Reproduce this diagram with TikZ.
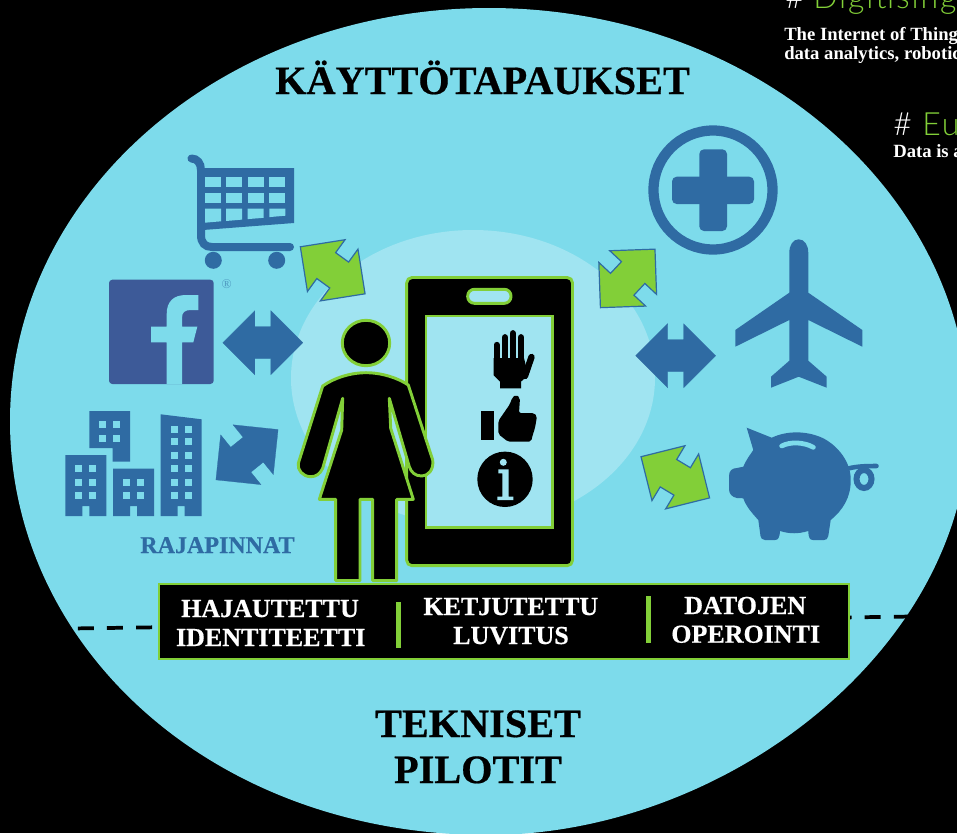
\documentclass[tikz,border=0pt]{standalone}
\usepackage{fontspec}
\setmainfont{Liberation Serif}
\newfontfamily\headfont[LetterSpace=6]{Lato Light}
\newfontfamily\heavyfont[FakeBold=0.5]{Liberation Serif Bold}
\definecolor{skyfill}{HTML}{7DDBEB}
\definecolor{palefill}{HTML}{A0E4F1}
\definecolor{iconblue}{HTML}{2F6BA3}
\definecolor{fbblue}{HTML}{3D5A98}
\definecolor{leafgreen}{HTML}{82CF38}
\begin{document}
\begin{tikzpicture}[x=0.75pt,y=-0.75pt]
        % Styles
        \tikzstyle{icon}=[fill=iconblue]
        \tikzstyle{cutout}=[fill=skyfill]
        \tikzstyle{outlined}=[fill=black,draw=leafgreen,line width=2.2pt,line join=round]
        \tikzstyle{blue arrow}=[fill=iconblue,draw=iconblue,line width=0.2pt]
        \tikzstyle{green arrow}=[fill=leafgreen,draw=iconblue,line width=0.9pt]
        \tikzstyle{big title}=[font=\heavyfont\fontsize{30.2}{36}\selectfont,inner sep=0pt,anchor=base]
        \tikzstyle{bar text}=[font=\heavyfont\fontsize{19.5}{24}\selectfont,text=white,inner sep=0pt,anchor=base]
        \tikzstyle{side text}=[font=\fontsize{14}{17}\selectfont\bfseries,text=white,inner sep=0pt,anchor=base west]
        \tikzstyle{side head}=[font=\headfont\fontsize{24}{28}\selectfont,inner sep=0pt,anchor=base west]
        %background
        \useasboundingbox (0,0) rectangle (957,833);
        \clip (0,0) rectangle (957,833);
        \fill[black] (0,0) rectangle (957,833);
        \fill[skyfill] (10,421) .. controls (10,193) and (224,8) .. (489,8) .. controls (754,8) and (969,193) .. (969,421)
            .. controls (969,649) and (725,835) .. (488,835) .. controls (215,835) and (10,649) .. (10,421) -- cycle;
        \fill[palefill] (473,378) ellipse (182 and 148);
        %side texts
        \node[side head,text=white] (hash one) at (785,8) {\#};
        \node[side head,text=leafgreen] (digi head) at (813,8) {Digitising};
        \node[side text] (iot line) at (784,40) {The Internet of Things};
        \node[side text] (data line) at (784,59) {data analytics, robotics};
        \node[side head,text=white] (hash two) at (893,135) {\#};
        \node[side head,text=leafgreen] (eu head) at (922,135) {Eu};
        \node[side text] (asset line) at (893,157) {Data is a};
        %titles
        \node[big title] (usecase title) at (482.5,94) {KÄYTTÖTAPAUKSET};
        \node[big title] (pilot one) at (478,737) {TEKNISET};
        \node[big title] (pilot two) at (478,783) {PILOTIT};
        \node[font=\heavyfont\fontsize{18}{20}\selectfont,text=iconblue,inner sep=0pt,anchor=base] (iface label) at (217.5,553) {RAJAPINNAT};
        %arrows
        \foreach \ax/\ay/\ang/\sty in {262.8/342.7/0/blue arrow,675.7/355.7/0/blue arrow,247/454.7/39/blue arrow,
            332.7/270.3/-36/green arrow,627.7/278.4/47/green arrow,675.3/477.3/-31/green arrow}
        \draw[\sty,shift={(\ax,\ay)},rotate=\ang] (-40,0) -- (-8,-32) -- (-8,-16) -- (8,-16) -- (8,-32) -- (40,0)
            -- (8,32) -- (8,16) -- (-8,16) -- (-8,32) -- cycle;
        %cart
        \draw[iconblue,line width=6pt,line cap=round] (191.5,158.5) .. controls (197,158.5) and (201,163) .. (201,170)
            -- (201,235) .. controls (201,243) and (205,247) .. (212,247) -- (290,247);
        \fill[icon] (199,168) -- (294,168) -- (294,223) -- (203,230) -- (199,230) -- cycle;
        \foreach \cx/\cy in {205/177.3,226/177.3,247.7/177.3,269.3/177.3,205/193.3,226/193.3,247.7/193.3,269.3/193.3}
        \fill[cutout] (\cx,\cy) rectangle ++(16,10);
        \fill[cutout] (205,208.7) -- (221,208.7) -- (221,221.3) -- (205,222.7) -- cycle;
        \fill[cutout] (226,208.7) -- (242,208.7) -- (242,219.6) -- (226,221) -- cycle;
        \fill[cutout] (247.7,208.7) -- (263.7,208.7) -- (263.7,217.8) -- (247.7,219.1) -- cycle;
        \fill[cutout] (269.3,208.7) -- (285.3,208.7) -- (285.3,215.7) -- (269.3,217.1) -- cycle;
        \fill[icon] (213.3,260.3) circle (8.5);
        \fill[icon] (276.7,260.3) circle (8.5);
        %facebook
        \fill[fbblue,rounded corners=2.5pt] (109,279.7) rectangle (213.7,384);
        \fill[cutout] (166.7,384) -- (166.7,342.3) -- (151,342.3) -- (151,326.7) -- (166.7,326.7) -- (166.7,314)
            .. controls (166.7,302) and (173,295) .. (186,295) -- (198.3,295) -- (198.3,310) -- (191,310)
            .. controls (185,310) and (182,312) .. (182,318) -- (182,326.7) -- (197.3,326.7) -- (193.3,342.3)
            -- (182,342.3) -- (182,384) -- cycle;
        \node[font=\fontsize{10}{11}\selectfont,text=iconblue!60!skyfill,inner sep=0pt] (reg mark) at (226.7,284.3) {®};
        %buildings
        \fill[icon] (89.3,411) -- (130,411) -- (130,461.7) -- (112.7,461.7) -- (112.7,448) -- (89.3,448) -- cycle;
        \fill[icon] (65.3,455) -- (106.3,455) -- (106.3,516) -- (89.3,516) -- (89.3,506) -- (82.3,506) -- (82.3,516) -- (65.3,516) -- cycle;
        \fill[icon] (113,468.7) -- (154,468.7) -- (154,516) -- (137,516) -- (137,506) -- (130,506) -- (130,516) -- (113,516) -- cycle;
        \fill[icon] (160.7,414.3) -- (201.7,419.3) -- (201.7,516) -- (184.7,516) -- (184.7,506) -- (177.7,506) -- (177.7,516) -- (160.7,516) -- cycle;
        \foreach \wx/\wy in {99.3/421,113.3/421,99.3/434.7,113.3/434.7,75.3/465,89.3/465,75.3/478.7,89.3/478.7,75.3/492.3,89.3/492.3,
            123/478.7,137/478.7,123/492.3,137/492.3,171/426,184.7/426,171/438,184.7/438,171/451.7,184.7/451.7,171/465,184.7/465,
            171/478.7,184.7/478.7,171/492.3,184.7/492.3}
        \fill[cutout] (\wx,\wy) rectangle ++(6.8,6.8);
        %health
        \draw[iconblue,line width=7.7pt] (713,190) circle (59.5);
        \fill[icon,rounded corners=3.5pt] (699.3,149.3) rectangle (727,231);
        \fill[icon,rounded corners=3.5pt] (672,176.7) rectangle (754,204);
        %plane
        \fill[icon] (789.3,253) .. controls (789.3,245) and (793,239.3) .. (798.7,239.3)
            .. controls (804.5,239.3) and (808.3,245) .. (808.3,253) -- (808.3,292.7) -- (862.3,330) -- (862.3,346.7) -- (808.3,320)
            -- (808.3,360.7) -- (826.7,376.7) -- (826.7,387.7) -- (798.7,376.7) -- (771,387.7) -- (771,376.7) -- (789.3,360.7)
            -- (789.3,320) -- (735.3,346.7) -- (735.3,330) -- (789.3,292.7) -- cycle;
        %piggy bank
        \fill[icon] (746.7,427.7) -- (771.7,437.7) .. controls (788,430) and (808,431) .. (823.3,438.3)
            .. controls (838,446) and (851,462) .. (850.7,480) .. controls (851,497) and (843,510) .. (830.7,520)
            -- (828.3,536) .. controls (828,539) and (826,540) .. (824,540) -- (813,540) .. controls (810,540) and (808.5,538) .. (808.3,531)
            .. controls (798,534) and (790,534) .. (780,531) .. controls (779.5,538) and (778,540) .. (775,540) -- (765,540)
            .. controls (762,540) and (761,538) .. (760.5,536) -- (758.3,520) .. controls (751,512) and (746,506) .. (743.3,498.3)
            -- (737,498) .. controls (732,497) and (729,494) .. (729,489) -- (729,476) .. controls (729,471) and (732,468) .. (737,468)
            -- (743.3,466.7) .. controls (746,460) and (750,455) .. (753.3,450) -- cycle;
        \draw[skyfill,line width=3.6pt,line cap=round] (781.7,446) .. controls (790,441.5) and (804,442) .. (813.3,447.3);
        \draw[iconblue,line width=3.4pt,line cap=round] (848,468.5) .. controls (858,466) and (868,466) .. (876.5,466);
        \draw[iconblue,line width=4.5pt] (864,479) ellipse (7.5 and 9);
        %phone
        \draw[outlined,rounded corners=4pt] (406.7,277.5) rectangle (572.5,565.7);
        \draw[leafgreen,fill=palefill,line width=2.2pt] (426,316) rectangle (552.7,527.7);
        \draw[leafgreen,fill=palefill,line width=2.2pt,rounded corners=5pt] (467.7,289.3) rectangle (511,303.3);
        %stop hand
        \foreach \fx/\ftop in {496.7/345,505/337.3,512.8/333.3,521/337.3}
        \draw[black,line width=4.8pt,line cap=round] (\fx,\ftop) -- (\fx,368);
        \draw[black,line width=4.8pt,line cap=round] (531.5,357) -- (525,376);
        \fill[black] (493.5,358) -- (524,358) -- (528,375) -- (521,381.7) -- (521,388.3) -- (500,388.3) -- (500,381.7) -- (493.5,375) -- cycle;
        %thumb
        \fill[black] (481,411) rectangle (494.3,439.5);
        \fill[black,rounded corners=1.5pt] (498.3,421) -- (510,404) -- (512,398) -- (516,394.5) -- (520,398) -- (519,413)
            -- (534,413) -- (537,416) -- (536,422) -- (535,428) -- (533,434) -- (531,441.7) -- (508,441.7) -- (498.3,434) -- cycle;
        %info
        \fill[black] (505,479.3) circle (27.7);
        \fill[palefill] (503.3,462.3) circle (3.5);
        \fill[palefill] (498.3,469.3) -- (508.5,469.3) -- (508.5,496.7) -- (513.3,496.7) -- (513.3,500) -- (497.3,500) -- (497.3,496.7)
            -- (502.3,496.7) -- (502.3,473.3) -- (498.3,473.3) -- cycle;
        %person
        \draw[outlined] (366,343) ellipse (23.7 and 22.7);
        \draw[outlined] (366,372.7) .. controls (382,372.7) and (398,378) .. (408.3,385) -- (432.7,460)
            .. controls (434,470) and (428,476) .. (421.7,476) .. controls (415,476) and (411,472) .. (409.3,466.7)
            -- (389.3,398.3) -- (390.7,428.3) -- (413.3,499.3) -- (396.7,499.3) -- (396.7,580.7) -- (372.7,580.7) -- (372.7,499.3)
            -- (360,499.3) -- (360,580.7) -- (335.7,580.7) -- (335.7,499.3) -- (319.3,499.3) -- (341.7,430) -- (342.7,398.3)
            -- (322.7,468.3) .. controls (320,474) and (316,476.7) .. (310.7,476.7) .. controls (303,476.7) and (297,470) .. (298.3,463.3)
            -- (322.7,386) .. controls (334,378) and (350,372.7) .. (366,372.7) -- cycle;
        %bottom band
        \coordinate (dash left) at (77.8,628.4);
        \coordinate (dash right) at (912,616.5);
        \draw[black,line width=2.8pt,dash pattern=on 12pt off 9.86pt] (dash left) -- (dash right);
        \draw[fill=black,draw=leafgreen,line width=1.5pt] (158.8,584) rectangle (849,659);
        \fill[leafgreen] (395.7,601.7) rectangle (401.3,648.3);
        \fill[leafgreen] (645.5,596) rectangle (651,642.7);
        \node[bar text] (identity one) at (270,617) {HAJAUTETTU};
        \node[bar text] (identity two) at (270.7,646) {IDENTITEETTI};
        \node[bar text] (chain one) at (510.8,615) {KETJUTETTU};
        \node[bar text] (chain two) at (511,644) {LUVITUS};
        \node[bar text] (data one) at (745.2,614) {DATOJEN};
        \node[bar text] (data two) at (745.7,642.7) {OPEROINTI};
    \end{tikzpicture}
\end{document}
